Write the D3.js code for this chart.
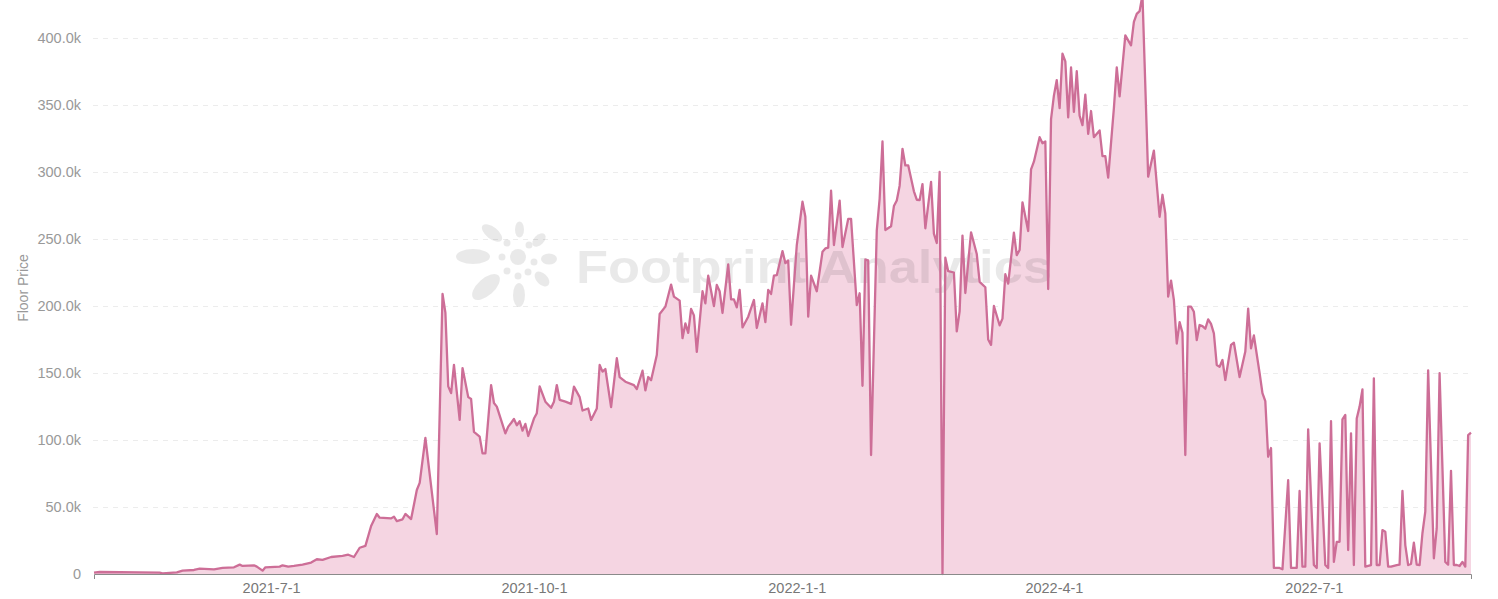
<!DOCTYPE html>
<html>
<head>
<meta charset="utf-8">
<script src="https://cdn.jsdelivr.net/npm/d3@7"></script>
<style>
  html, body { margin: 0; padding: 0; background: #fff; }
  svg { display: block; font-family: "Liberation Sans", Arial, Helvetica, sans-serif; }
</style>
</head>
<body>
<svg id="chart" width="1498" height="599"></svg>
<script>
// ---------------- data ----------------
const startDate = "2021-04-30";          // first day of the series
const dayOffsets = [0,2,23,24,29,31,35,37,42,45,49,51,52,56,57,59,60,65,66,68,70,73,76,78,80,83,87,89,91,93,95,97,99,100,104,105,106,108,109,111,113,114,116,120,122,123,124,125,126,128,129,131,132,133,135,136,137,139,140,141,144,145,146,147,148,149,150,151,152,154,155,156,158,160,161,162,163,165,167,168,170,171,173,174,176,177,178,179,181,183,184,186,189,190,192,193,194,195,197,198,200,202,203,205,206,207,208,209,210,211,213,214,215,217,218,219,220,222,223,224,225,226,227,229,231,232,234,235,236,237,238,239,241,242,243,244,246,248,249,250,251,253,255,256,257,258,259,261,262,264,265,267,268,269,270,271,272,274,275,276,277,279,280,281,282,283,284,285,287,288,289,290,291,293,294,295,296,297,298,299,301,302,303,304,305,307,309,310,312,313,314,315,317,318,319,320,322,323,324,325,327,328,329,331,332,333,334,335,336,337,338,339,340,341,342,343,344,345,346,347,348,349,350,352,353,354,355,357,358,359,361,363,364,365,366,367,369,371,373,374,375,376,377,378,379,380,381,382,383,384,385,386,387,388,389,390,391,392,393,394,395,396,398,399,401,403,404,405,406,408,409,410,411,412,413,415,416,418,419,421,422,423,424,425,427,428,429,431,432,433,434,435,436,437,438,439,440,441,442,443,444,445,447,448,449,450,451,452,453,454,456,457,458,459,460,461,462,463,464,465,466,467,469,470,471,473,474,475,476,477,478,479,480,481,482];
// floor price in thousands
const floorPriceK = [1,1.5,1,0.5,1.2,2.5,3,4,3.5,4.5,5,7,6,6.5,5.5,2.5,5,5.5,6.5,5.5,6,7,8.5,11,10.5,12.7,13.5,14.4,12.7,19.6,21,35.8,44.8,42,41.5,42.8,39.5,40.8,44.8,41,62.7,68,101.5,29.8,209,195,140,135,156,115,153.7,132,130.6,106,102.5,90,90,141,127.6,124.9,105,110,112.7,115.7,111,114,107,112,103,116,120,140,128.6,124,128.6,141,130,128.6,127,139.8,132,122,123.5,115,123.5,156,151,153,124.6,161,147,143.5,141,138,151.7,137,147,144.6,163.4,194,199.5,216,207,204,176,187,180,197.8,193,165.7,211,202,222.6,200,215.7,211,194.8,231,205,205,199,212,184,192,204.5,183.6,202,188,212,209,222.6,223,241,232,234,186,245.5,277.8,266.6,192,222.6,211,240.5,243,243.5,286,245.5,278.6,244,265,265,200.7,209.5,140.5,234.7,234,88.8,256.5,280,322.8,256.7,259.5,274.6,278.8,289.8,317.3,304.9,305,285.6,279.3,279,291,258,292.6,254,247,300,0,236,226,225,181,196,252.5,209.7,255,238.8,218,214,175,171,200,185.6,190.6,223.7,216.7,254.8,238,241.8,277.4,256,302,307.7,326,321.4,322.8,212.7,339.5,357,368.6,347.7,388.4,382.6,340.8,378,344.9,375.2,342,335,357.8,328.4,345.5,326,331,311.8,311.8,295.8,347.7,378,356.5,402,394.5,412,418,420,432,296.5,316,266.6,283,269,207,219,204.5,172,188,180,88.8,199.5,199.5,195.7,174.6,185.8,185,183,190,186.6,179.6,156,154.7,159.7,144.8,171,172.6,147,166,198,168.4,178,150,135,129,87.5,94,4.5,4.5,3.5,70,4.5,4.5,62,5.5,5.5,108,6.7,4.5,97.5,6.7,4.5,114,9,24,24,115.4,118.7,17.9,105,6.7,116,124.9,137.8,5.5,6.7,146,6.7,6.7,32.8,31.6,5.5,5.5,6.7,7,62,21.6,6.7,7.5,23.4,7,6.7,30.4,46.5,152,11.7,34,149.8,9,7,77,6.7,6.7,6,9,5.5,103.7,105.5];
const xTickDates = ["2021-07-01","2021-10-01","2022-01-01","2022-04-01","2022-07-01"];
const yTickValuesK = [0,50,100,150,200,250,300,350,400];
const yAxisTitle = "Floor Price";
const watermarkText = "Footprint Analytics";

// ---------------- chart ----------------
const parse = d3.timeParse("%Y-%m-%d");
const start = parse(startDate);
const data = dayOffsets.map((d, i) => ({ date: d3.timeDay.offset(start, d), v: floorPriceK[i] }));

const svg = d3.select("#chart");
const x = d3.scaleTime()
  .domain([start, d3.timeDay.offset(start, d3.max(dayOffsets))])
  .range([94, 1471]);
const y = d3.scaleLinear().domain([0, 400]).range([574, 38]);

const gridLeft = 93, gridRight = 1473;

// gridlines
svg.append("g").selectAll("line")
  .data(yTickValuesK.filter(v => v > 0))
  .join("line")
  .attr("x1", gridLeft).attr("x2", gridRight)
  .attr("y1", d => y(d) + 0.5).attr("y2", d => y(d) + 0.5)
  .attr("stroke", "#ececec")
  .attr("stroke-width", 1)
  .attr("stroke-dasharray", "5,5");

// area
const area = d3.area()
  .x(d => x(d.date))
  .y0(y(0))
  .y1(d => y(d.v));
svg.append("path")
  .datum(data)
  .attr("d", area)
  .attr("fill", "#f5d5e2");

// watermark
const wm = svg.append("g").attr("fill", "#000").attr("fill-opacity", 0.085);
wm.append("circle").attr("cx", 518).attr("cy", 257).attr("r", 8);
const petals = [
  [473, 256.5, 17, 7.5, 0],
  [492, 233, 12, 6, 38],
  [519.5, 229.5, 4.5, 8, 0],
  [539, 240, 8, 5, -45],
  [549, 259, 8, 5.5, 0],
  [542, 279, 9, 5.5, 45],
  [519, 295, 6, 12, 0],
  [486, 287, 17, 8.5, -42]
];
petals.forEach(p => {
  wm.append("ellipse")
    .attr("cx", p[0]).attr("cy", p[1]).attr("rx", p[2]).attr("ry", p[3])
    .attr("transform", `rotate(${p[4]},${p[0]},${p[1]})`);
});
const dots = [[502, 257], [507, 243], [529, 245], [534, 262], [528, 272], [507, 271], [518, 276]];
dots.forEach(d => wm.append("circle").attr("cx", d[0]).attr("cy", d[1]).attr("r", 3.5));
wm.append("text")
  .attr("x", 576).attr("y", 283)
  .attr("font-size", 46)
  .attr("font-weight", "bold")
  .attr("textLength", 476)
  .attr("lengthAdjust", "spacingAndGlyphs")
  .text(watermarkText);

// line
const line = d3.line().x(d => x(d.date)).y(d => y(d.v));
svg.append("path")
  .datum(data)
  .attr("d", line)
  .attr("fill", "none")
  .attr("stroke", "#cd6e97")
  .attr("stroke-width", 2.3)
  .attr("stroke-linejoin", "round");

// x axis
const xAxis = d3.axisBottom(x)
  .tickValues(xTickDates.map(parse))
  .tickFormat(d3.timeFormat("%Y-%-m-%-d"))
  .tickSizeInner(0)
  .tickSizeOuter(5)
  .tickPadding(9);
const gx = svg.append("g").attr("transform", "translate(0,574)").call(xAxis);
gx.select(".domain").attr("stroke", "#8a8a8a");
gx.selectAll("text").attr("fill", "#777").attr("font-size", 14.5)
  .attr("font-family", "'Liberation Sans', Arial, sans-serif");

// y axis
const yAxis = d3.axisLeft(y)
  .tickValues(yTickValuesK)
  .tickFormat(d => d === 0 ? "0" : d3.format(".1f")(d) + "k")
  .tickSize(0)
  .tickPadding(12);
const gy = svg.append("g").attr("transform", `translate(${gridLeft},0)`).call(yAxis);
gy.select(".domain").remove();
gy.selectAll("text").attr("fill", "#999").attr("font-size", 14.5)
  .attr("font-family", "'Liberation Sans', Arial, sans-serif");

// y axis title
svg.append("text")
  .attr("transform", "translate(28,288) rotate(-90)")
  .attr("text-anchor", "middle")
  .attr("fill", "#999")
  .attr("font-size", 14)
  .text(yAxisTitle);
</script>
</body>
</html>
